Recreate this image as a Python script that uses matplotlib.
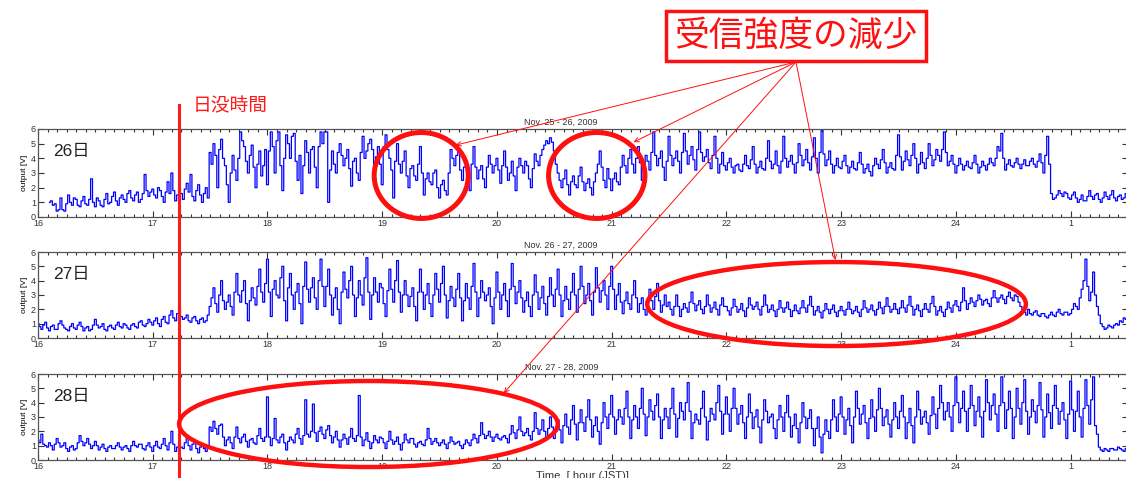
import matplotlib
matplotlib.use("Agg")
import matplotlib.pyplot as plt
from matplotlib.patches import Ellipse
from matplotlib.ticker import MultipleLocator
import numpy as np

plt.rcParams['font.family'] = ['Liberation Sans', 'Noto Sans CJK JP']

# receiver output [V], one sample per minute
sample_step = 1 / 60.0

start_26 = 16.1
output_26 = [
    1.0, 1.1, 0.8, 0.9, 0.4, 0.5, 1.3, 0.5, 0.4, 0.9, 1.5, 1.0, 0.8, 1.3, 1.2, 0.8, 0.7, 1.1,
    1.4, 0.9, 0.8, 1.2, 2.6, 1.0, 0.7, 1.3, 1.1, 0.8, 0.7, 1.2, 1.6, 0.9, 1.0, 1.4, 1.7, 1.1,
    0.8, 1.3, 1.5, 1.2, 1.0, 1.6, 1.8, 1.3, 1.1, 1.5, 1.7, 1.0, 1.2, 1.6, 2.9, 1.8, 1.4, 1.7,
    # 17:00
    1.9, 1.5, 1.3, 2.0, 1.8, 1.4, 1.0, 1.7, 2.4, 1.6, 3.0, 1.8, 1.1, 1.5, 2.0,
    1.6, 1.2, 1.9, 2.3, 1.7, 2.9, 1.4, 1.1, 1.8, 2.2, 1.5, 1.0, 1.6, 2.0, 1.3,
    4.4, 3.6, 5.0, 4.2, 2.0, 4.6, 5.3, 4.0, 3.5, 2.2, 1.0, 3.0, 4.2, 3.2, 2.5,
    4.0, 5.8, 5.2, 4.8, 3.8, 3.0, 4.2, 4.9, 3.4, 2.0, 3.6, 4.5, 2.8, 3.5, 4.6,
    # 18:00
    2.2, 4.5, 5.8, 4.8, 3.0, 5.2, 5.8, 3.5, 1.8, 4.0, 5.6, 5.0, 4.0, 5.5, 5.7,
    3.8, 2.5, 4.2, 1.6, 3.5, 5.2, 4.4, 3.0, 4.6, 4.8, 3.4, 2.0, 4.8, 5.8, 5.0,
    5.8, 5.8, 1.0, 3.2, 4.5, 3.6, 3.0, 4.4, 5.0, 4.2, 3.5, 4.0, 4.6, 3.3, 2.1,
    3.8, 4.0, 3.0, 2.5, 4.4, 5.5, 4.0, 4.5, 5.0, 5.3, 4.6, 3.2, 4.1, 4.8, 3.6,
    # 19:00
    2.2, 4.8, 5.6, 4.6, 4.0, 3.2, 1.3, 3.8, 5.0, 3.6, 3.0, 3.8, 4.5, 2.8, 2.0,
    3.3, 3.5, 2.8, 2.5, 3.6, 4.8, 3.0, 1.5, 2.6, 3.0, 2.4, 2.2, 3.0, 3.2, 2.0,
    1.3, 2.2, 2.5, 1.8, 1.5, 3.0, 4.6, 4.0, 3.5, 4.2, 4.5, 3.2, 2.5, 3.4, 3.8,
    2.9, 1.8, 3.6, 4.8, 3.4, 2.6, 3.2, 3.5, 2.6, 2.0, 3.4, 4.2, 3.6, 3.0, 3.5,
    # 20:00
    4.0, 3.2, 2.3, 3.5, 4.5, 3.4, 2.5, 3.0, 3.8, 2.8, 1.8, 3.4, 4.0, 3.5, 3.0,
    3.8, 3.5, 2.6, 2.0, 3.3, 4.3, 3.8, 3.5, 4.2, 4.6, 4.9, 5.2, 5.0, 5.4, 5.1,
    4.5, 3.6, 3.0, 2.5, 2.0, 2.6, 3.2, 2.2, 1.5, 2.4, 2.8, 2.2, 2.0, 2.8, 3.4,
    2.4, 1.8, 2.3, 2.6, 2.0, 1.5, 2.4, 3.0, 3.6, 4.5, 3.4, 2.5, 2.0, 3.3, 2.6,
    # 21:00
    1.8, 2.6, 3.0, 2.4, 2.2, 3.4, 4.2, 3.5, 3.0, 4.0, 4.6, 3.6, 3.0, 4.0, 4.8,
    3.7, 2.5, 3.6, 4.2, 3.8, 3.2, 4.4, 5.8, 4.2, 3.5, 4.0, 4.5, 3.4, 2.5, 3.8,
    5.5, 4.2, 3.5, 4.0, 4.5, 3.8, 3.0, 4.4, 5.7, 4.5, 3.6, 4.2, 4.8, 3.9, 3.2,
    4.6, 5.8, 4.4, 3.8, 4.1, 4.6, 3.7, 3.3, 4.2, 5.5, 4.0, 3.0, 3.6, 4.4, 3.5,
    # 22:00
    3.2, 3.7, 4.0, 3.4, 3.0, 3.5, 3.6, 3.2, 3.1, 3.6, 4.2, 3.5, 3.3, 3.9, 4.8,
    3.6, 3.0, 3.4, 3.8, 3.3, 3.2, 4.0, 5.2, 3.8, 3.3, 3.6, 4.5, 3.5, 3.0, 3.8,
    5.5, 4.0, 3.4, 3.8, 4.2, 3.6, 3.0, 3.7, 5.0, 4.2, 3.5, 3.9, 4.6, 3.7, 3.2,
    4.1, 5.4, 4.0, 3.0, 4.4, 5.9, 4.3, 3.5, 3.9, 4.5, 3.6, 3.0, 3.5, 4.0, 3.4,
    # 23:00
    3.3, 3.8, 4.2, 3.5, 3.0, 3.4, 3.8, 3.3, 3.2, 3.7, 4.4, 3.6, 3.0, 3.3, 3.6,
    3.1, 2.8, 3.5, 4.0, 3.6, 3.3, 3.9, 4.6, 3.7, 3.0, 3.4, 3.7, 3.3, 3.2, 4.2,
    5.6, 4.1, 3.2, 3.8, 4.5, 3.9, 3.5, 4.2, 5.0, 4.0, 3.0, 3.6, 4.4, 3.7, 3.3,
    4.0, 5.0, 4.2, 3.5, 3.9, 4.6, 4.2, 3.8, 4.6, 5.8, 4.4, 3.5, 3.8, 4.2, 3.6,
    # 24:00
    3.0, 3.5, 4.0, 3.6, 3.2, 3.5, 3.8, 3.4, 3.3, 3.7, 4.2, 3.6, 3.0, 3.4, 3.8,
    3.5, 3.2, 3.6, 4.0, 3.7, 3.5, 4.0, 4.8, 4.5, 5.7, 4.0, 3.2, 3.6, 3.9, 3.5,
    3.4, 3.7, 4.0, 3.6, 3.3, 3.6, 3.9, 3.5, 3.5, 3.8, 4.0, 3.6, 3.4, 3.8, 4.3,
    3.7, 3.0, 4.2, 5.5, 3.6, 1.6, 1.2, 1.3, 1.5, 1.8, 1.6, 1.4, 1.7, 1.6, 1.3,
    # 01:00
    1.2, 1.5, 1.7, 1.3, 1.0, 1.2, 1.5, 1.1, 1.1, 1.4, 1.8, 1.4, 1.2, 1.5, 1.6,
    1.2, 1.0, 1.3, 1.7, 1.4, 1.2, 1.5, 1.8, 1.3, 1.1, 1.4, 1.5, 1.2, 1.3, 1.6,
]

start_27 = 16.0
output_27 = [
    1.0, 0.8, 0.6, 0.9, 1.1, 0.7, 0.5, 0.8, 0.9, 0.6, 0.6, 1.0, 1.2, 0.9, 0.7,
    0.6, 0.5, 0.8, 1.0, 0.7, 0.6, 0.9, 1.1, 0.8, 0.5, 0.7, 0.8, 0.5, 0.6, 0.9,
    1.3, 0.9, 0.7, 0.8, 1.0, 0.6, 0.5, 0.8, 0.9, 0.7, 0.6, 0.9, 1.1, 0.8, 0.7,
    1.0, 0.9, 0.7, 0.6, 0.9, 1.0, 0.8, 0.7, 1.1, 1.2, 0.9, 0.8, 1.0, 1.3, 1.1,
    # 17:00
    0.9, 1.2, 1.4, 1.0, 0.8, 1.3, 1.5, 1.1, 1.0, 1.6, 1.9, 1.4, 1.2, 1.7, 2.2,
    1.5, 1.3, 1.4, 1.6, 1.2, 1.1, 1.4, 1.5, 1.2, 1.0, 1.3, 1.4, 1.1, 1.2, 1.6,
    2.2, 2.8, 3.5, 2.4, 1.8, 3.0, 4.0, 2.6, 2.0, 2.5, 3.0, 2.2, 1.6, 3.2, 4.5,
    3.0, 2.5, 3.3, 4.0, 2.4, 1.2, 2.6, 3.5, 2.8, 2.3, 3.6, 4.8, 3.2, 2.5, 3.8,
    # 18:00
    5.5, 3.2, 1.5, 3.4, 4.0, 3.0, 2.8, 4.2, 5.0, 2.6, 1.2, 3.5, 4.5, 3.0, 2.0,
    3.2, 3.8, 2.4, 1.0, 3.6, 5.3, 3.4, 2.5, 3.5, 4.2, 2.8, 2.0, 4.0, 5.5, 3.6,
    2.2, 3.6, 4.8, 3.0, 1.6, 2.8, 3.5, 2.0, 1.0, 3.2, 4.6, 3.4, 2.8, 4.0, 5.0,
    3.0, 1.5, 2.8, 4.0, 3.0, 2.3, 4.2, 5.6, 3.2, 1.3, 3.0, 4.2, 3.2, 2.5, 3.8,
    # 19:00
    3.5, 2.4, 1.5, 3.3, 4.8, 3.4, 2.5, 4.0, 5.4, 3.2, 1.8, 3.0, 4.0, 3.0, 2.2,
    2.9, 3.5, 2.2, 1.2, 3.2, 4.8, 3.2, 2.0, 3.0, 3.8, 2.4, 1.5, 3.0, 4.5, 3.4,
    2.5, 3.8, 5.0, 3.0, 1.4, 2.6, 3.6, 2.8, 2.2, 3.4, 4.5, 2.8, 1.2, 2.6, 3.8,
    2.8, 2.0, 3.6, 5.2, 3.2, 1.5, 2.8, 4.0, 3.2, 2.6, 3.0, 3.5, 2.2, 1.0, 2.8,
    # 20:00
    4.6, 3.2, 2.0, 3.0, 3.8, 2.6, 1.5, 3.4, 5.2, 3.6, 2.4, 3.2, 4.0, 2.8, 1.8,
    2.6, 3.2, 2.2, 1.5, 3.0, 4.4, 3.2, 2.0, 2.8, 3.6, 2.4, 1.6, 2.9, 4.2, 3.0,
    2.2, 3.4, 4.8, 3.0, 1.5, 2.6, 3.6, 2.7, 2.0, 3.2, 4.5, 3.0, 1.8, 3.4, 5.0,
    3.6, 2.4, 3.0, 3.8, 2.6, 1.6, 3.2, 4.9, 3.5, 2.5, 3.3, 4.0, 3.0, 2.0, 3.6,
    # 21:00
    5.0, 3.4, 2.0, 3.0, 3.8, 2.5, 1.7, 2.6, 3.2, 2.4, 2.0, 3.0, 4.0, 2.8, 1.8,
    2.4, 2.8, 2.0, 1.6, 2.5, 3.4, 2.6, 2.0, 2.9, 3.8, 2.6, 1.8, 2.3, 3.0, 2.2,
    2.5, 2.0, 1.6, 2.2, 3.0, 2.2, 1.5, 2.0, 2.4, 2.1, 1.8, 2.5, 3.2, 2.4, 1.9,
    2.3, 2.6, 2.0, 1.7, 2.2, 3.0, 2.3, 1.8, 2.1, 2.5, 2.0, 1.6, 2.3, 2.8, 2.2,
    # 22:00
    2.2, 1.9, 1.6, 2.1, 2.7, 2.2, 1.8, 2.0, 2.4, 1.9, 1.5, 2.1, 2.8, 2.3, 2.0,
    2.2, 2.5, 2.0, 1.6, 2.2, 3.0, 2.3, 1.8, 2.0, 2.3, 1.9, 1.5, 2.0, 2.6, 2.1,
    1.8, 2.1, 2.5, 2.0, 1.5, 1.9, 2.3, 1.9, 1.7, 2.1, 2.6, 2.1, 1.8, 2.3, 2.9,
    2.2, 1.6, 1.9, 2.2, 1.8, 1.4, 1.9, 2.4, 2.0, 1.7, 2.0, 2.3, 1.8, 1.5, 1.9,
    # 23:00
    2.2, 1.9, 1.6, 2.0, 2.5, 2.0, 1.7, 1.9, 2.2, 1.8, 1.5, 2.0, 2.6, 2.1, 1.8,
    2.0, 2.3, 1.9, 1.6, 2.0, 2.5, 2.1, 1.7, 2.2, 2.8, 2.2, 1.8, 2.0, 2.4, 2.0,
    1.7, 2.1, 2.6, 2.1, 1.8, 2.3, 2.9, 2.2, 1.6, 2.0, 2.3, 1.9, 1.5, 2.0, 2.4,
    2.0, 1.8, 2.4, 2.9, 2.2, 1.6, 1.9, 2.2, 1.8, 1.5, 2.0, 2.5, 2.1, 1.8, 2.3,
    # 24:00
    2.6, 2.2, 1.9, 2.5, 3.5, 2.6, 2.0, 2.4, 2.8, 2.5, 2.2, 2.6, 3.0, 2.7, 2.3,
    2.6, 2.7, 2.4, 2.2, 2.8, 3.3, 2.8, 2.5, 2.8, 3.0, 2.7, 2.4, 2.9, 3.2, 2.8,
    2.6, 3.0, 2.9, 2.5, 2.2, 2.0, 1.8, 1.6, 2.0, 1.7, 1.6, 1.8, 1.9, 1.6, 1.5,
    1.7, 1.7, 1.5, 1.4, 1.6, 1.8, 1.6, 1.5, 1.8, 2.0, 1.7, 1.6, 1.8, 1.8, 1.6,
    # 01:00
    1.7, 2.0, 2.4, 2.2, 2.0, 2.8, 3.4, 4.0, 5.5, 3.6, 2.6, 3.2, 4.6, 3.0, 2.2,
    1.6, 1.0, 0.8, 0.6, 0.7, 0.9, 0.8, 0.7, 0.9, 1.0, 0.9, 1.2, 1.1, 1.4, 1.3,
]

start_28 = 16.0
output_28 = [
    1.4, 1.2, 1.8, 1.1, 1.0, 0.9, 1.2, 1.0, 0.7, 1.1, 1.5, 1.2, 0.9, 1.0, 1.2,
    0.8, 0.6, 0.9, 1.0, 0.7, 0.8, 1.2, 1.7, 1.3, 1.0, 1.2, 1.5, 1.1, 0.8, 1.0,
    1.3, 1.0, 0.7, 0.9, 1.1, 0.8, 0.6, 0.9, 1.0, 0.8, 0.8, 1.0, 1.2, 0.9, 0.7,
    0.9, 1.0, 0.8, 0.6, 1.0, 1.3, 1.0, 0.9, 1.1, 1.1, 0.8, 0.7, 1.0, 1.2, 0.9,
    # 17:00
    0.6, 1.0, 1.3, 0.9, 0.8, 1.1, 1.5, 1.0, 0.7, 1.2, 2.0, 1.1, 0.6, 0.9, 1.2,
    0.9, 0.8, 1.2, 1.6, 1.0, 0.7, 1.1, 1.3, 0.8, 0.5, 0.9, 1.0, 0.8, 0.6, 1.0,
    2.3, 2.0, 2.7, 2.2, 1.8, 2.4, 2.5, 1.6, 1.0, 1.4, 1.6, 1.2, 0.8, 1.6, 2.3,
    1.5, 1.2, 1.6, 1.8, 1.3, 0.9, 1.4, 1.5, 1.2, 1.1, 1.7, 2.2, 1.5, 1.3, 1.6,
    # 18:00
    4.4, 1.6, 1.0, 1.5, 2.9, 1.4, 1.2, 1.6, 1.8, 1.2, 0.7, 1.3, 1.6, 1.4, 1.2,
    1.8, 2.2, 1.5, 1.1, 1.7, 4.2, 1.8, 1.6, 2.0, 3.9, 1.9, 1.3, 2.0, 2.3, 1.8,
    1.5, 2.1, 2.4, 1.7, 1.2, 1.6, 2.0, 1.4, 0.9, 1.4, 1.8, 1.5, 1.1, 1.6, 2.2,
    1.5, 1.3, 1.7, 4.5, 1.6, 1.0, 1.4, 1.9, 1.3, 0.8, 1.2, 1.7, 1.4, 1.2, 1.6,
    # 19:00
    1.5, 1.2, 0.8, 1.3, 2.0, 1.4, 1.1, 1.3, 1.6, 1.1, 0.7, 1.2, 1.8, 1.4, 1.2,
    1.5, 1.5, 1.1, 0.9, 1.2, 1.3, 1.1, 1.0, 1.4, 2.2, 1.5, 1.1, 1.3, 1.5, 1.2,
    1.0, 1.2, 1.4, 1.1, 0.8, 1.2, 1.6, 1.3, 1.1, 1.2, 1.3, 1.0, 0.8, 1.1, 1.4,
    1.2, 1.0, 1.4, 1.8, 1.5, 1.2, 1.7, 2.6, 1.8, 1.5, 1.7, 2.0, 1.6, 1.3, 1.6,
    # 20:00
    1.8, 1.5, 1.4, 1.6, 1.7, 1.5, 1.2, 1.8, 2.4, 1.9, 1.5, 2.1, 3.0, 2.0, 1.7,
    1.9, 2.2, 1.7, 1.4, 2.0, 3.3, 2.2, 1.8, 2.1, 2.8, 2.0, 1.6, 2.2, 3.0, 2.3,
    1.5, 2.0, 2.8, 2.1, 1.2, 2.4, 3.2, 2.3, 1.8, 2.8, 3.8, 2.5, 1.4, 2.6, 3.5,
    2.6, 2.0, 3.0, 4.2, 2.8, 1.6, 2.4, 3.0, 2.0, 1.1, 2.6, 4.0, 3.0, 2.2, 3.2,
    # 21:00
    4.5, 3.0, 1.8, 2.8, 3.5, 3.0, 2.5, 3.6, 4.8, 3.0, 1.5, 2.8, 3.8, 3.0, 2.2,
    3.6, 5.0, 3.2, 1.7, 3.0, 4.2, 3.4, 2.8, 3.8, 4.6, 3.0, 1.5, 2.8, 3.6, 3.0,
    2.2, 3.6, 5.0, 3.2, 1.6, 2.9, 4.0, 3.4, 2.8, 4.0, 5.4, 3.4, 1.5, 2.6, 3.2,
    2.8, 2.5, 3.6, 4.8, 3.0, 1.4, 2.7, 3.6, 3.2, 2.8, 4.0, 5.2, 3.4, 1.8, 3.2,
    # 22:00
    4.4, 3.2, 2.0, 3.6, 5.0, 3.6, 2.5, 3.2, 3.8, 2.6, 1.5, 3.0, 4.6, 3.3, 2.2,
    3.0, 3.5, 2.3, 1.2, 2.8, 4.2, 3.4, 2.6, 3.0, 3.2, 2.2, 1.5, 2.8, 3.8, 3.0,
    2.0, 3.3, 4.5, 3.0, 1.6, 2.4, 3.2, 2.2, 1.2, 2.6, 4.0, 3.0, 2.2, 2.9, 3.5,
    2.2, 1.0, 2.2, 3.0, 1.6, 0.5, 1.8, 2.8, 2.0, 1.5, 2.8, 4.2, 3.0, 2.0, 3.2,
    # 23:00
    4.4, 3.0, 1.8, 2.8, 3.6, 2.4, 1.2, 3.0, 4.8, 3.6, 2.5, 3.2, 3.8, 2.6, 1.5,
    2.9, 4.2, 3.0, 2.0, 3.5, 5.0, 3.6, 2.4, 3.0, 3.5, 2.5, 1.6, 2.8, 4.0, 3.0,
    2.2, 3.4, 4.5, 3.0, 1.5, 2.6, 3.6, 2.4, 1.2, 3.0, 4.8, 3.5, 2.5, 3.0, 3.4,
    2.6, 1.8, 3.1, 4.4, 3.2, 2.2, 3.6, 5.2, 4.0, 2.8, 3.4, 4.0, 3.0, 2.0, 3.8,
    # 24:00
    5.8, 4.0, 2.6, 3.6, 4.8, 3.4, 2.0, 3.6, 5.2, 3.8, 2.4, 3.4, 4.4, 3.0, 1.6,
    3.4, 5.6, 4.0, 2.8, 3.8, 4.6, 3.2, 2.0, 3.8, 5.8, 4.0, 2.2, 3.5, 4.8, 3.6,
    1.5, 3.0, 5.0, 3.6, 2.5, 4.0, 5.6, 3.4, 1.8, 3.0, 4.2, 3.4, 2.6, 3.8, 5.4,
    3.5, 1.6, 3.0, 4.6, 3.3, 2.2, 3.8, 5.2, 3.6, 2.5, 3.4, 4.0, 2.8, 1.5, 3.2,
    # 01:00
    5.5, 3.5, 2.0, 3.4, 4.8, 3.0, 1.6, 3.6, 5.6, 3.8, 2.5, 4.2, 5.8, 2.4, 1.8,
    0.9, 0.7, 0.6, 0.8, 0.7, 0.6, 0.8, 0.8, 0.7, 0.7, 0.9, 0.8, 0.7, 0.6, 0.8,
]

titles = ['Nov. 25 - 26, 2009', 'Nov. 26 - 27, 2009', 'Nov. 27 - 28, 2009']
day_labels = ['26日', '27日', '28日']
hour_ticks = [16, 17, 18, 19, 20, 21, 22, 23, 24, 25]
hour_labels = ['16', '17', '18', '19', '20', '21', '22', '23', '24', '1']
sunset_hour = 17.23

W, H = 1126, 478
fig = plt.figure(figsize=(W / 100, H / 100), dpi=100)

# panel tops / bottoms in pixels
panel_px = [(129, 217), (252, 338), (374, 460)]
left_px, right_px = 38, 1128

series = [(start_26, output_26), (start_27, output_27), (start_28, output_28)]
axes = []
for k, (top, bot) in enumerate(panel_px):
    ax = fig.add_axes([left_px / W, 1 - bot / H, (right_px - left_px) / W, (bot - top) / H])
    start, vals = series[k]
    t = start + np.arange(len(vals)) * sample_step
    ax.plot(t, vals, color='#0000ff', lw=0.9, drawstyle='steps-mid')
    ax.set_xlim(16, 25.5)
    ax.set_ylim(0, 6)
    ax.set_xticks(hour_ticks)
    ax.set_xticklabels(hour_labels)
    ax.set_yticks(range(7))
    ax.xaxis.set_minor_locator(MultipleLocator(1 / 12))
    ax.tick_params(which='both', direction='in', top=True, right=True,
                   labelsize=6.5, labelcolor='#333333', pad=1.5, color='#333333')
    ax.tick_params(which='major', length=4, width=0.8)
    ax.tick_params(which='minor', length=2.5, width=0.8)
    for s in ax.spines.values():
        s.set_color('#555555')
        s.set_linewidth(0.9)
    ax.set_ylabel('output [V]', fontsize=6, labelpad=2)
    ax.text(0.48, 1.02, titles[k], transform=ax.transAxes, ha='center', va='bottom',
            fontsize=6.5, color='#333333')
    ax.text(0.014, 0.74, day_labels[k], transform=ax.transAxes, ha='left', va='center',
            fontsize=12.5, color='#222222')
    axes.append(ax)

ax1, ax2, ax3 = axes

fig.text(582 / W, 1 - 471 / H, 'Time  [ hour (JST)]', ha='center', va='top',
         fontsize=8, color='#333333')

# sunset line across all panels
line_red = '#ff1a1a'
for ax in axes:
    ax.axvline(sunset_hour, color=line_red, lw=2.2, clip_on=False, zorder=5)
    ax.plot([sunset_hour, sunset_hour], [0, -3], color=line_red, lw=2.2, clip_on=False, zorder=5)
ax1.plot([sunset_hour, sunset_hour], [6, 7.65], color=line_red, lw=2.2, clip_on=False, zorder=5)
ax1.text(17.35, 7.55, '日没時間', fontsize=13.5, color=line_red, ha='left', va='center')

# regions of reduced signal
red = '#ff1010'
ax1.add_patch(Ellipse((19.34, 2.83), 0.82, 5.86, fill=False, ec=red, lw=3.6, clip_on=False, zorder=6))
ax1.add_patch(Ellipse((20.87, 2.83), 0.84, 5.86, fill=False, ec=red, lw=3.6, clip_on=False, zorder=6))
ax2.add_patch(Ellipse((22.96, 2.37), 3.30, 5.86, fill=False, ec=red, lw=3.2, clip_on=False, zorder=6))
ax3.add_patch(Ellipse((18.88, 2.51), 3.30, 6.0, fill=False, ec=red, lw=3.2, clip_on=False, zorder=6))

src = (796, H - 62)
targets = [(ax1, (19.64, 4.9)), (ax1, (21.19, 5.1)), (ax2, (22.95, 5.44)), (ax3, (20.06, 4.67))]
for ax, xy in targets:
    ax.annotate('', xy=xy, xytext=src, textcoords='figure pixels', annotation_clip=False,
                arrowprops=dict(arrowstyle='->', color=red, lw=0.7, shrinkA=0, shrinkB=0,
                                mutation_scale=8), zorder=7)

fig.text(796 / W, 1 - 36 / H, '受信強度の減少', ha='center', va='center', fontsize=25,
         color=red, bbox=dict(boxstyle='square,pad=0.25', fc='white', ec=red, lw=2.5))

fig.savefig('out.png', dpi=100)
